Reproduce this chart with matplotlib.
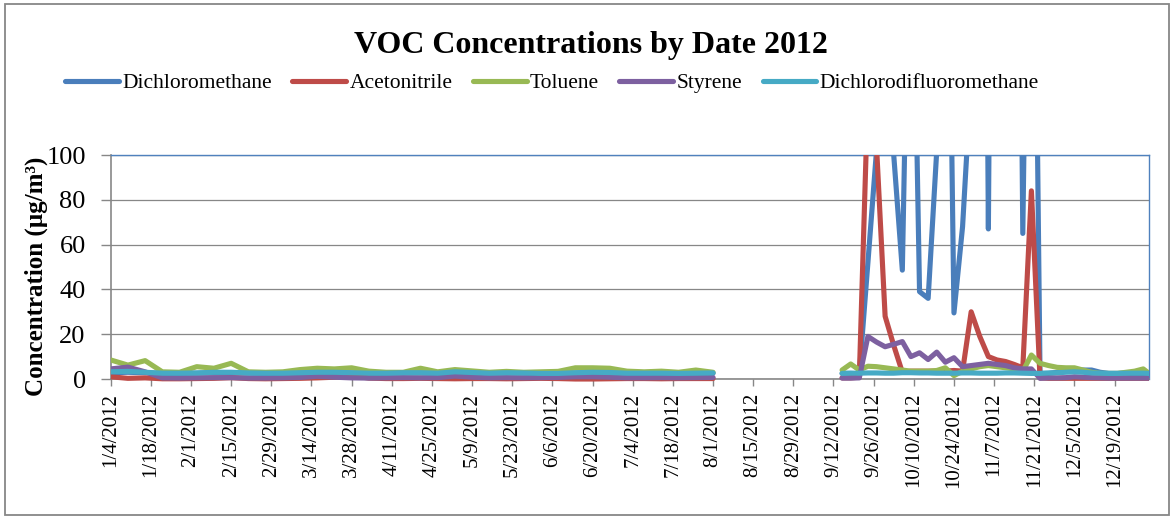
import numpy as np
import pandas as pd
import matplotlib
matplotlib.use('Agg')
import matplotlib.pyplot as plt
from matplotlib.lines import Line2D
from matplotlib.patches import Rectangle

plt.rcParams['font.family'] = ['Liberation Serif', 'DejaVu Serif']

# sampling dates: every 6th day until 8/1, every 3rd day from mid September
dates_a = pd.date_range('2012-01-04', '2012-08-01', freq='6D')
dates_b = pd.date_range('2012-09-15', '2012-12-29', freq='3D').append(pd.DatetimeIndex(['2012-12-31']))

names = ['Dichloromethane', 'Acetonitrile', 'Toluene', 'Styrene', 'Dichlorodifluoromethane']
colors = ['#4A7EBB', '#BE4B48', '#98B954', '#7D60A0', '#46AAC5']

# concentrations (ug/m3), first period
dcm_a = [2.8, 3.0, 2.8, 2.5, 2.5, 2.6, 2.8, 2.8, 2.6, 2.5, 2.5, 2.7, 2.8, 2.8, 2.7, 2.5, 2.5, 2.7,
         2.7, 2.5, 3.0, 2.8, 2.5, 2.7, 2.6, 2.4, 2.4, 2.7, 2.8, 2.8, 2.5, 2.5, 2.5, 2.4, 2.5, 2.6]
acn_a = [1.0, 0.3, 0.5, 0.1, 0.1, 0.2, 0.3, 0.6, 0.2, 0.1, 0.2, 0.3, 0.5, 0.8, 1.6, 0.4, 0.2, 0.2,
         0.3, 0.2, 0.1, 0.2, 0.2, 0.1, 0.2, 0.3, 0.2, 0.0, 0.0, 0.1, 0.2, 0.2, 0.1, 0.2, 0.2, 0.2]
tol_a = [8.5, 6.2, 8.2, 3.2, 3.0, 5.5, 4.8, 7.0, 3.2, 3.0, 3.2, 4.2, 4.8, 4.5, 5.0, 3.5, 3.0, 3.0,
         4.8, 3.2, 4.2, 3.6, 3.0, 3.4, 3.0, 3.2, 3.4, 5.0, 5.0, 4.8, 3.5, 3.2, 3.5, 3.0, 4.0, 3.0]
sty_a = [4.5, 5.3, 3.2, 0.5, 0.4, 0.5, 0.6, 0.6, 0.4, 0.4, 0.5, 0.7, 1.2, 0.8, 0.5, 0.4, 0.5, 0.6,
         0.5, 0.6, 1.3, 0.8, 0.5, 0.6, 0.5, 0.6, 0.7, 1.0, 1.0, 0.8, 0.5, 0.5, 0.6, 0.5, 0.6, 0.7]
dfm_a = [3.2, 3.4, 3.0, 2.6, 2.6, 2.7, 3.0, 3.0, 2.7, 2.6, 2.6, 2.8, 3.0, 3.0, 2.8, 2.6, 2.6, 2.8,
         2.8, 2.6, 3.2, 2.9, 2.6, 2.8, 2.7, 2.5, 2.5, 2.8, 3.0, 2.9, 2.6, 2.6, 2.6, 2.5, 2.6, 2.7]

# second period
dcm_b = [2.5, 2.5, 2.3, 52, 102, 180, 100, 48.6, 250, 39, 36, 102, 318, 29.5, 68, 135, 600, 67, 600,
         400, 500, 65, 350, 2.5, 2.5, 3.0, 3.5, 3.8, 4.0, 4.0, 3.0, 2.5, 2.5, 2.6, 2.4, 2.3, 2.2]
acn_b = [0.5, 0.5, 0.8, 128, 104, 28, 15, 3.0, 3.5, 3.5, 3.5, 3.5, 3.5, 3.8, 3.5, 30, 19, 10, 8.5,
         7.8, 6.5, 5.0, 84, 0.5, 0.3, 0.3, 0.3, 0.3, 0.3, 0.3, 0.3, 0.3, 0.3, 0.3, 0.3, 0.3, 0.3]
tol_b = [4.0, 6.7, 4.0, 5.7, 5.5, 5.0, 4.5, 4.0, 3.5, 3.5, 3.5, 3.8, 5.0, 1.5, 3.5, 4.5, 5.5, 6.0, 5.5,
         5.0, 4.5, 3.5, 10.7, 7.0, 6.0, 5.2, 5.0, 5.0, 4.0, 3.0, 2.5, 2.5, 2.5, 3.0, 3.5, 4.5, 2.5]
sty_b = [0.4, 0.4, 0.5, 19, 16.5, 14.4, 15.5, 16.7, 10, 11.7, 8.7, 12, 7.5, 9.5, 5.5, 6.0, 6.5, 7.0, 6.5,
         6.0, 5.0, 4.5, 4.5, 0.3, 0.5, 0.5, 0.6, 1.0, 0.8, 0.6, 0.5, 0.4, 0.4, 0.4, 0.4, 0.4, 0.4]
dfm_b = [2.5, 2.6, 2.6, 2.7, 2.7, 2.6, 2.6, 2.8, 2.8, 2.7, 2.7, 2.6, 2.6, 2.6, 2.7, 2.7, 2.6, 2.6, 2.6,
         2.7, 2.7, 2.6, 2.5, 2.5, 2.7, 2.8, 3.0, 3.2, 3.0, 2.7, 2.6, 2.5, 2.5, 2.6, 2.6, 2.6, 2.5]

series_a = [dcm_a, acn_a, tol_a, sty_a, dfm_a]
series_b = [dcm_b, acn_b, tol_b, sty_b, dfm_b]

fig = plt.figure(figsize=(11.73, 5.18), dpi=100)
ax = fig.add_axes([110.7 / 1173, 139 / 518, (1149 - 110.7) / 1173, 224 / 518])

# let thick lines spill a little below the zero line, but stop them at 100
clip = Rectangle((0, -0.04), 1, 1.04, transform=ax.transAxes)

handles = []
for name, col, ya, yb in zip(names, colors, series_a, series_b):
    for d, y in ((dates_a, ya), (dates_b, yb)):
        ln, = ax.plot(d, y, color=col, lw=3.7, solid_joinstyle='round',
                      solid_capstyle='round', zorder=3)
        ln.set_clip_path(clip)
    handles.append(Line2D([], [], color=col, lw=3.7, solid_capstyle='round'))

ax.set_ylim(0, 100)
ax.set_xlim(pd.Timestamp('2012-01-04'), pd.Timestamp('2012-12-31'))
ax.set_yticks(np.arange(0, 101, 20))
ax.yaxis.grid(True, color='#878787', lw=0.9)
ax.set_axisbelow(True)

ticks = pd.date_range('2012-01-04', '2012-12-19', freq='14D')
ax.set_xticks(ticks)
ax.set_xticklabels([f'{t.month}/{t.day}/{t.year}' for t in ticks], rotation=90, fontsize=15)
ax.tick_params(axis='x', direction='out', length=5, width=1, color='#878787', pad=5)
ax.tick_params(axis='y', direction='out', length=7, width=1, color='#878787', pad=11, labelsize=19)

for s in ('left', 'bottom'):
    ax.spines[s].set_color('#878787')
    ax.spines[s].set_linewidth(1.2)
for s in ('top', 'right'):
    ax.spines[s].set_color('#4F81BD')
    ax.spines[s].set_linewidth(1.0)

fig.text(591 / 1173, 1 - 45 / 518, 'VOC Concentrations by Date 2012', ha='center', va='center',
         fontsize=23, fontweight='bold')
fig.text(36 / 1173, 1 - 276 / 518, 'Concentration (µg/m³)', rotation=90, ha='center', va='center',
         fontsize=18, fontweight='bold')

fig.legend(handles, names, loc='center', bbox_to_anchor=(552 / 1173, 1 - 83 / 518), ncol=5,
           frameon=False, fontsize=15.5, handlelength=2.5, handletextpad=0.15, columnspacing=0.95,
           borderpad=0, borderaxespad=0)

# chart area outline
fig.patches.append(Rectangle((5 / 1173, 3 / 518), 1164 / 1173, 511 / 518, transform=fig.transFigure,
                             fill=False, edgecolor='#878787', lw=1.3))

fig.savefig('out.png', dpi=100)
